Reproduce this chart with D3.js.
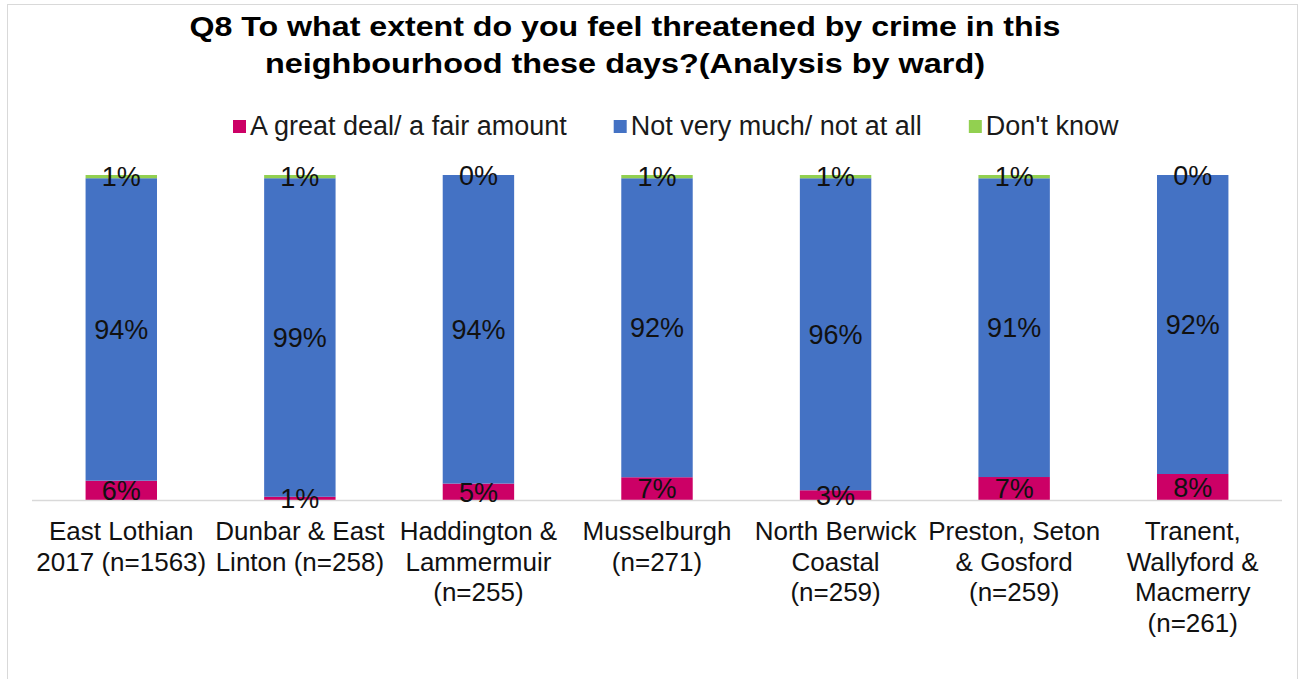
<!DOCTYPE html>
<html>
<head>
<meta charset="utf-8">
<script src="https://cdn.jsdelivr.net/npm/d3@7"></script>
<style>
  html, body { margin: 0; padding: 0; background: #fff; }
  svg { display: block; font-family: "Liberation Sans", Arial, sans-serif; }
</style>
</head>
<body>
<svg id="chart" width="1306" height="679"></svg>
<script>
// Wards surveyed, with sample sizes, split across label lines
const categories = [
  "East Lothian 2017", "Dunbar & East Linton", "Haddington & Lammermuir",
  "Musselburgh", "North Berwick Coastal", "Preston, Seton & Gosford",
  "Tranent, Wallyford & Macmerry"
];
const tickLabels = [
  ["East Lothian", "2017 (n=1563)"],
  ["Dunbar & East", "Linton (n=258)"],
  ["Haddington &", "Lammermuir", "(n=255)"],
  ["Musselburgh", "(n=271)"],
  ["North Berwick", "Coastal", "(n=259)"],
  ["Preston, Seton", "& Gosford", "(n=259)"],
  ["Tranent,", "Wallyford &", "Macmerry", "(n=261)"]
];

// Response shares (%) per ward
const greatDeal = [6, 1, 5, 7, 3, 7, 8];
const notMuch   = [94, 99, 94, 92, 96, 91, 92];
const dontKnow  = [1, 1, 0, 1, 1, 1, 0];

const seriesNames = ["A great deal/ a fair amount", "Not very much/ not at all", "Don't know"];
const seriesColors = ["#CC0066", "#4472C4", "#92D050"];

const titleLines = [
  "Q8 To what extent do you feel threatened by crime in this",
  "neighbourhood these days?(Analysis by ward)"
];

const rows = categories.map((c, i) => ({
  cat: c, s0: greatDeal[i], s1: notMuch[i], s2: dontKnow[i]
}));
const keys = ["s0", "s1", "s2"];

const svg = d3.select("#chart");

// chart frame
svg.append("rect")
  .attr("x", 7.5).attr("y", 4.5)
  .attr("width", 1290).attr("height", 720)
  .attr("fill", "#fff").attr("stroke", "#d9d9d9").attr("stroke-width", 1);

// title (stretched to the wide bold face used in the report)
const titleWidths = [871, 720];
titleLines.forEach((t, i) => {
  svg.append("text")
    .attr("x", 625).attr("y", 36 + i * 37)
    .attr("text-anchor", "middle")
    .attr("font-size", 28).attr("font-weight", "bold").attr("fill", "#000")
    .attr("textLength", titleWidths[i]).attr("lengthAdjust", "spacingAndGlyphs")
    .text(t);
});

// legend
let lx = 233;
seriesNames.forEach((name, i) => {
  const g = svg.append("g").attr("transform", `translate(${lx},0)`);
  g.append("rect").attr("x", 0).attr("y", 120).attr("width", 13).attr("height", 13)
    .attr("fill", seriesColors[i]);
  const t = g.append("text").attr("x", 17).attr("y", 135)
    .attr("font-size", 27).attr("fill", "#1a1a1a").text(name);
  lx += 17 + t.node().getComputedTextLength() + 47;
});

// scales
const x = d3.scaleBand().domain(categories).range([32, 1282])
  .paddingInner(0.6).paddingOuter(0.3);
const y = d3.scaleLinear().domain([0, 1]).range([500, 175]);

const stacked = d3.stack().keys(keys).offset(d3.stackOffsetExpand)(rows);

// bars
const layers = svg.append("g").selectAll("g").data(stacked).join("g")
  .attr("fill", (d, i) => seriesColors[i]);
layers.selectAll("rect").data(d => d).join("rect")
  .attr("x", d => x(d.data.cat))
  .attr("width", x.bandwidth())
  .attr("y", d => y(d[1]))
  .attr("height", d => y(d[0]) - y(d[1]));

// baseline axis
svg.append("line")
  .attr("x1", 32).attr("x2", 1282).attr("y1", 500.5).attr("y2", 500.5)
  .attr("stroke", "#d9d9d9").attr("stroke-width", 1.5);

// data labels, centred in each segment
const labels = svg.append("g");
stacked.forEach((layer) => {
  layer.forEach(d => {
    labels.append("text")
      .attr("x", x(d.data.cat) + x.bandwidth() / 2)
      .attr("y", (y(d[0]) + y(d[1])) / 2)
      .attr("dy", "0.36em")
      .attr("text-anchor", "middle")
      .attr("font-size", 27).attr("fill", "#111")
      .text(d.data[layer.key] + "%");
  });
});

// category labels
const ticks = svg.append("g");
categories.forEach((c, i) => {
  const t = ticks.append("text")
    .attr("text-anchor", "middle")
    .attr("font-size", 26).attr("fill", "#111");
  tickLabels[i].forEach((line, j) => {
    t.append("tspan")
      .attr("x", x(c) + x.bandwidth() / 2)
      .attr("y", 540 + j * 30.6)
      .text(line);
  });
});
</script>
</body>
</html>
